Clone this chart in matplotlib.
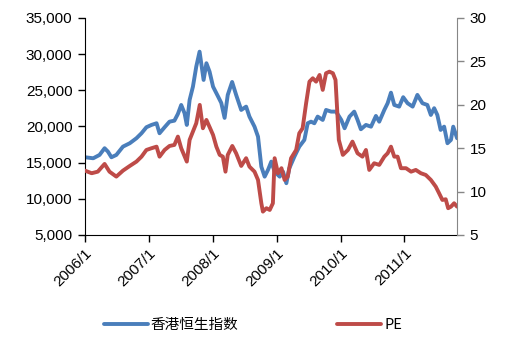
import pandas as pd
import matplotlib
matplotlib.use('Agg')
from matplotlib import pyplot as plt
from matplotlib.ticker import FuncFormatter, MultipleLocator

plt.rcParams['font.family'] = ['Liberation Sans', 'Noto Sans CJK SC', 'DejaVu Sans']

# Hang Seng index (left axis)
hsiDates = ['2006-01-01', '2006-02-17', '2006-03-25', '2006-04-23', '2006-05-12', '2006-06-01',
            '2006-06-29', '2006-08-06', '2006-09-14', '2006-10-22', '2006-11-20', '2006-12-18',
            '2007-01-16', '2007-02-14', '2007-03-03', '2007-04-01', '2007-04-29', '2007-05-27',
            '2007-06-16', '2007-07-05', '2007-07-24', '2007-08-06', '2007-08-22', '2007-09-10',
            '2007-09-29', '2007-10-18', '2007-11-10', '2007-11-26', '2007-12-14', '2008-01-03',
            '2008-02-01', '2008-02-19', '2008-03-09', '2008-03-27', '2008-04-21', '2008-05-14',
            '2008-06-12', '2008-07-10', '2008-07-29', '2008-08-27', '2008-09-16', '2008-10-05',
            '2008-10-24', '2008-11-12', '2008-12-01', '2008-12-20', '2009-01-18', '2009-02-06',
            '2009-02-25', '2009-03-14', '2009-04-12', '2009-05-10', '2009-06-08', '2009-06-27',
            '2009-07-16', '2009-08-04', '2009-08-23', '2009-09-21', '2009-10-10', '2009-11-08',
            '2009-12-06', '2010-01-05', '2010-01-24', '2010-02-21', '2010-03-20', '2010-04-08',
            '2010-04-27', '2010-05-26', '2010-06-24', '2010-07-22', '2010-08-10', '2010-09-08',
            '2010-09-27', '2010-10-16', '2010-11-04', '2010-12-02', '2010-12-25', '2011-01-19',
            '2011-02-17', '2011-03-16', '2011-04-14', '2011-05-12', '2011-06-01', '2011-06-20',
            '2011-07-08', '2011-07-27', '2011-08-16', '2011-09-04', '2011-09-24', '2011-10-07',
            '2011-10-29']
hsiValues = [15740, 15600, 16060, 16990, 16520, 15740,
             16060, 17210, 17680, 18370, 19060, 19890,
             20210, 20440, 19060, 19890, 20660, 20800,
             21730, 22970, 21830, 20210, 23660, 25500,
             28270, 30340, 26430, 28740, 27580, 25500,
             24120, 23250, 21180, 24360, 26150, 24360,
             22280, 22740, 21360, 19970, 18590, 14440,
             13060, 13990, 15140, 13750, 13060, 13750,
             12150, 14220, 15830, 17210, 18140, 20440,
             20660, 20440, 21360, 20900, 22280, 22050,
             22050, 20900, 19750, 21360, 22050, 20900,
             19610, 20210, 19970, 21450, 20660, 22280,
             23210, 24670, 22970, 22740, 24040, 23210,
             22740, 24360, 23210, 22970, 21590, 22520,
             21590, 19520, 19970, 17680, 18140, 19970,
             18370]

# PE (right axis)
peDates = ['2006-01-01', '2006-02-08', '2006-03-15', '2006-04-23', '2006-05-21', '2006-06-29',
           '2006-08-06', '2006-09-14', '2006-10-22', '2006-11-20', '2006-12-18', '2007-01-16',
           '2007-02-14', '2007-03-03', '2007-04-01', '2007-04-29', '2007-05-27', '2007-06-16',
           '2007-07-05', '2007-08-06', '2007-08-22', '2007-09-29', '2007-10-19', '2007-11-06',
           '2007-11-26', '2007-12-14', '2008-01-03', '2008-01-22', '2008-02-10', '2008-02-28',
           '2008-03-14', '2008-03-27', '2008-04-22', '2008-05-14', '2008-06-12', '2008-07-10',
           '2008-07-29', '2008-08-27', '2008-09-16', '2008-10-05', '2008-10-14', '2008-11-03',
           '2008-11-22', '2008-12-10', '2008-12-20', '2009-01-08', '2009-01-28', '2009-02-15',
           '2009-03-05', '2009-03-24', '2009-04-22', '2009-05-10', '2009-05-29', '2009-06-18',
           '2009-07-07', '2009-07-26', '2009-08-14', '2009-09-03', '2009-09-21', '2009-10-10',
           '2009-10-29', '2009-11-18', '2009-12-03', '2009-12-22', '2010-01-14', '2010-02-12',
           '2010-03-10', '2010-04-08', '2010-05-06', '2010-05-26', '2010-06-14', '2010-07-12',
           '2010-08-10', '2010-09-08', '2010-09-27', '2010-10-16', '2010-11-04', '2010-11-23',
           '2010-12-12', '2011-01-10', '2011-02-08', '2011-03-07', '2011-04-05', '2011-05-03',
           '2011-06-01', '2011-06-29', '2011-07-18', '2011-08-06', '2011-08-25', '2011-09-08',
           '2011-09-24', '2011-10-12', '2011-10-29']
peValues = [12.41, 12.11, 12.29, 13.18, 12.29, 11.72,
            12.41, 12.95, 13.45, 14.02, 14.79, 14.99,
            15.17, 14.02, 14.79, 15.25, 15.37, 16.33,
            14.99, 13.45, 15.95, 17.87, 19.98, 17.29,
            18.25, 17.44, 16.52, 15.17, 14.22, 14.02,
            12.29, 14.22, 15.25, 14.41, 12.95, 13.84,
            12.87, 12.29, 11.34, 8.65, 7.69, 8.08,
            7.88, 8.65, 13.84, 12.11, 12.69, 11.34,
            11.72, 13.84, 14.79, 16.72, 17.29, 20.17,
            22.66, 23.05, 22.66, 23.43, 21.71, 23.63,
            23.81, 23.63, 22.86, 15.95, 14.22, 14.79,
            15.75, 14.41, 14.02, 14.79, 12.49, 13.26,
            13.07, 14.02, 14.41, 15.17, 14.02, 14.02,
            12.69, 12.69, 12.29, 12.49, 12.11, 11.91,
            11.34, 10.57, 9.81, 9.03, 9.11, 8.08,
            8.26, 8.65, 8.26]

yearTicks = ['2006-01-01', '2007-01-01', '2008-01-01', '2009-01-01', '2010-01-01', '2011-01-01']
yearLabels = ['2006/1', '2007/1', '2008/1', '2009/1', '2010/1', '2011/1']

fig = plt.figure(figsize=(5.09, 3.45), dpi=100)
ax = fig.add_axes([0.167, 0.319, 0.731, 0.629])
ax2 = ax.twinx()

blueLine, = ax.plot(pd.to_datetime(hsiDates), hsiValues, color='#4A7EBB', lw=2.8,
                    solid_capstyle='round', label='香港恒生指数')
redLine, = ax2.plot(pd.to_datetime(peDates), peValues, color='#BE4B48', lw=2.8,
                    solid_capstyle='round', label='PE')

ax.set_ylim(5000, 35000)
ax.yaxis.set_major_locator(MultipleLocator(5000))
ax.yaxis.set_major_formatter(FuncFormatter(lambda v, p: f'{int(v):,}'))
ax2.set_ylim(5, 30)
ax2.yaxis.set_major_locator(MultipleLocator(5))

ax.set_xlim(pd.Timestamp('2006-01-01'), pd.Timestamp('2011-10-29'))
ax.set_xticks(pd.to_datetime(yearTicks))
ax.set_xticklabels(yearLabels, rotation=45, ha='right', rotation_mode='anchor')

for side in ['top', 'right']:
    ax.spines[side].set_visible(False)
for side in ['top', 'left', 'bottom']:
    ax2.spines[side].set_visible(False)
ax.spines['left'].set_color('black')
ax.spines['bottom'].set_color('black')
ax2.spines['right'].set_color('#868686')

ax.tick_params(axis='both', direction='out', length=5, width=1, colors='black',
               labelsize=11, pad=4)
ax.tick_params(axis='x', pad=3)
ax2.tick_params(axis='y', direction='out', length=5, width=1, color='#868686',
                labelcolor='black', labelsize=11, pad=4)

fig.legend(handles=[blueLine, redLine], loc='center', bbox_to_anchor=(0.497, 0.058),
           ncol=2, frameon=False, handlelength=3.0, handletextpad=0.2, columnspacing=6.8,
           prop={'family': ['Noto Sans CJK SC', 'DejaVu Sans'], 'size': 10.5})

fig.savefig('out.png', dpi=100)
